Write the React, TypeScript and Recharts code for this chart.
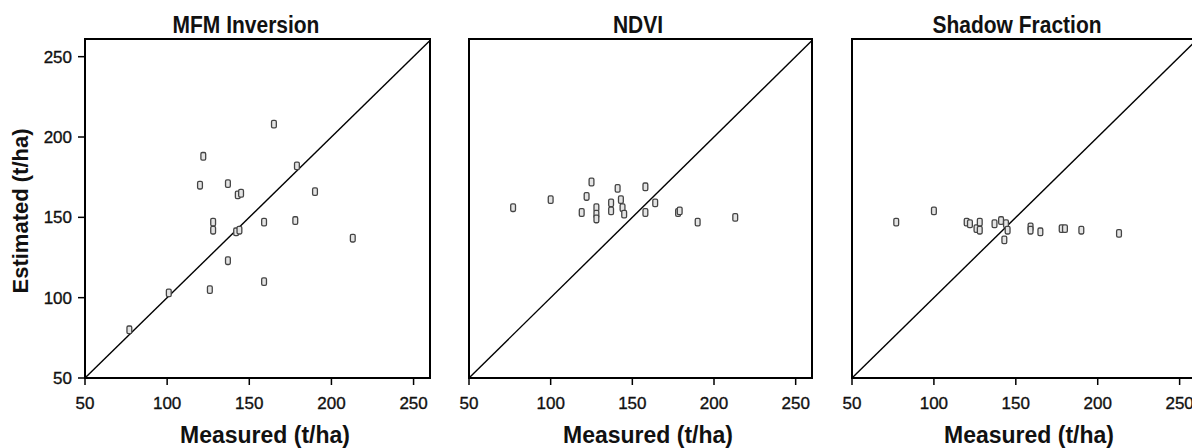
import React from "react";
import {
  ScatterChart,
  Scatter,
  XAxis,
  YAxis,
  ReferenceLine,
  ReferenceArea,
} from "recharts";

const mfmMeasured = [77, 101, 122, 120, 137, 143, 145, 128, 128, 142, 144, 137, 126, 159, 159, 165, 179, 190, 178, 213];
const mfmEstimated = [80, 103, 188, 170, 171, 164, 165, 147, 142, 141, 142, 123, 105, 147, 110, 208, 182, 166, 148, 137];

const ndviMeasured = [77, 100, 119, 122, 125, 128, 128, 128, 137, 137, 141, 143, 144, 145, 158, 158, 164, 178, 179, 190, 213];
const ndviEstimated = [156, 161, 153, 163, 172, 156, 152, 149, 159, 154, 168, 161, 156, 152, 169, 153, 159, 153, 154, 147, 150];

const shadowMeasured = [77, 100, 120, 122, 126, 128, 128, 137, 141, 144, 143, 145, 159, 159, 165, 178, 180, 190, 213];
const shadowEstimated = [147, 154, 147, 146, 143, 147, 142, 146, 148, 146, 136, 142, 144, 142, 141, 143, 143, 142, 140];

const axisTicks = [50, 100, 150, 200, 250];
const xDomain = [50, 260];
const yDomain = [50, 261];

const FONT = "'Liberation Sans', Arial, Helvetica, sans-serif";

const toPoints = (xs: number[], ys: number[]) => xs.map((x, i) => ({ x, y: ys[i] }));

// small hollow rounded box, like the original marker
const Marker = (props: any) => {
  const { cx, cy } = props;
  if (cx == null || cy == null) return null;
  return (
    <rect
      x={cx - 2.4}
      y={cy - 3.8}
      width={4.8}
      height={7.6}
      rx={1.4}
      fill="#e4e4e4"
      stroke="#444"
      strokeWidth={1.3}
    />
  );
};

interface PanelProps {
  title: string;
  data: { x: number; y: number }[];
  left: number;
  width: number;
  yAxisWidth: number;
  showYLabels: boolean;
}

function Panel({ data, left, width, yAxisWidth, showYLabels }: PanelProps) {
  const tickStyle = { fontSize: 17, fill: "#111", stroke: "#111", strokeWidth: 0.35, fontFamily: FONT };
  return (
    <div style={{ position: "absolute", left, top: 0, width, height: 448 }}>
      <ScatterChart width={width} height={448} margin={{ top: 39, right: 10, bottom: 0, left: 0 }}>
        <XAxis
          type="number"
          dataKey="x"
          domain={xDomain}
          ticks={axisTicks}
          allowDataOverflow
          height={70}
          tickSize={7}
          tickMargin={12}
          axisLine={{ stroke: "#000", strokeWidth: 2 }}
          tickLine={{ stroke: "#000", strokeWidth: 1.5 }}
          tick={tickStyle}
          interval={0}
        />
        <YAxis
          type="number"
          dataKey="y"
          domain={yDomain}
          ticks={axisTicks}
          allowDataOverflow
          width={yAxisWidth}
          tickSize={7}
          tickMargin={6}
          axisLine={{ stroke: "#000", strokeWidth: 2 }}
          tickLine={{ stroke: "#000", strokeWidth: 1.5 }}
          tick={showYLabels ? tickStyle : false}
          interval={0}
        />
        <ReferenceArea
          x1={50}
          x2={260}
          y1={50}
          y2={261}
          fill="none"
          fillOpacity={0}
          stroke="#000"
          strokeWidth={2}
          ifOverflow="visible"
        />
        <ReferenceLine
          segment={[{ x: 50, y: 50 }, { x: 260, y: 260 }]}
          stroke="#000"
          strokeWidth={1.4}
          ifOverflow="visible"
        />
        <Scatter data={data} shape={<Marker />} isAnimationActive={false} />
      </ScatterChart>
    </div>
  );
}

const panels = [
  { title: "MFM Inversion", data: toPoints(mfmMeasured, mfmEstimated), left: 0, width: 440, yAxisWidth: 85, showYLabels: true, titleX: 246, labelX: 265 },
  { title: "NDVI", data: toPoints(ndviMeasured, ndviEstimated), left: 440, width: 382, yAxisWidth: 29, showYLabels: false, titleX: 638, labelX: 648 },
  { title: "Shadow Fraction", data: toPoints(shadowMeasured, shadowEstimated), left: 822, width: 384, yAxisWidth: 30, showYLabels: false, titleX: 1017, labelX: 1029 },
];

export default function App() {
  return (
    <div
      style={{
        position: "absolute",
        left: 0,
        top: 0,
        width: 1192,
        height: 448,
        overflow: "hidden",
        background: "#fff",
        fontFamily: FONT,
      }}
    >
      {panels.map((p) => (
        <Panel key={p.title} {...p} />
      ))}
      <svg
        width={1192}
        height={448}
        style={{ position: "absolute", left: 0, top: 0, pointerEvents: "none" }}
      >
        {panels.map((p) => (
          <g key={p.title} fontFamily={FONT} fontWeight="bold" fill="#111">
            {/* the source text is a bit taller than wide, so stretch it slightly */}
            <text
              x={p.titleX}
              y={33}
              textAnchor="middle"
              fontSize={21}
              transform={`translate(0 ${-33 * 0.12}) scale(1 1.12)`}
            >
              {p.title}
            </text>
            <text
              x={p.labelX}
              y={443}
              textAnchor="middle"
              fontSize={23}
              transform={`translate(0 ${-443 * 0.08}) scale(1 1.08)`}
            >
              Measured (t/ha)
            </text>
          </g>
        ))}
        <text
          x={28}
          y={211}
          transform="rotate(-90 28 211)"
          textAnchor="middle"
          fontSize={22}
          fontWeight="bold"
          fontFamily={FONT}
          fill="#111"
        >
          Estimated (t/ha)
        </text>
      </svg>
    </div>
  );
}
